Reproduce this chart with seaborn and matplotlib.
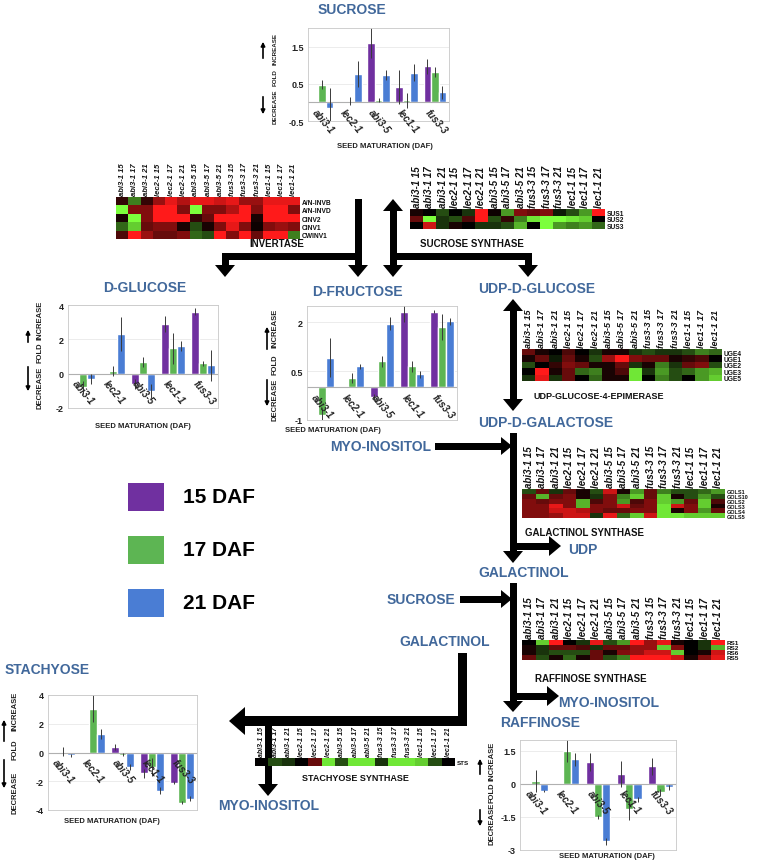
import numpy as np
import pandas as pd
import matplotlib
matplotlib.use("Agg")
import matplotlib.pyplot as plt
import seaborn as sns
from matplotlib.colors import LinearSegmentedColormap
from matplotlib.patches import Rectangle, Polygon

W, H = 758, 862
sns.set_style("white")
plt.rcParams["font.family"] = ["Liberation Sans", "DejaVu Sans"]

# ---------------- data ----------------
lines = ["abi3-1", "lec2-1", "abi3-5", "lec1-1", "fus3-3"]
daf = ["15 DAF", "17 DAF", "21 DAF"]
palette = ["#7030A0", "#5DB553", "#4A7DD4"]

suc15 = [0, 0, 1.6, 0.42, 0.97]
suc17 = [0.48, 0.04, 0.06, 0.06, 0.82]
suc21 = [-0.15, 0.76, 0.74, 0.80, 0.27]
suc_e15 = [0, 0, 0.40, 0.45, 0.20]
suc_e17 = [0.13, 0.10, 0.06, 0.20, 0.13]
suc_e21 = [0.55, 0.35, 0.13, 0.22, 0.17]

glu15 = [0, 0, -0.6, 2.9, 3.6]
glu17 = [-0.8, 0.15, 0.7, 1.47, 0.6]
glu21 = [-0.3, 2.3, -1.0, 1.6, 0.5]
glu_e15 = [0, 0, 0.3, 0.45, 0.2]
glu_e17 = [0.4, 0.3, 0.3, 0.9, 0.15]
glu_e21 = [0.3, 1.0, 0.4, 0.3, 0.9]

fru15 = [0, 0, -0.3, 2.32, 2.32]
fru17 = [-0.85, 0.3, 0.81, 0.65, 1.86]
fru21 = [0.91, 0.65, 1.96, 0.4, 2.03]
fru_e15 = [0, 0, 0.1, 0.3, 0.05]
fru_e17 = [0.2, 0.15, 0.17, 0.17, 0.4]
fru_e21 = [0.6, 0.08, 0.2, 0.1, 0.1]

sta15 = [0, 0, 0.4, -1.45, -2.1]
sta17 = [0.05, 3.05, -0.15, -1.0, -3.5]
sta21 = [-0.2, 1.3, -1.0, -2.65, -3.2]
sta_e15 = [0, 0, 0.2, 0.3, 0.1]
sta_e17 = [0.3, 0.95, 0.1, 0.6, 0.1]
sta_e21 = [0.1, 0.35, 0.2, 0.25, 0.2]

raf15 = [0, 0, 1.0, 0.45, 0.8]
raf17 = [0.13, 1.5, -1.5, -1.15, -0.38]
raf21 = [-0.3, 1.12, -2.6, -0.7, -0.15]
raf_e15 = [0, 0, 0.4, 0.6, 0.4]
raf_e17 = [0.5, 0.5, 0.1, 0.5, 0.15]
raf_e21 = [0.05, 0.3, 0.15, 0.1, 0.1]

heat_cols = ["abi3-1 15", "abi3-1 17", "abi3-1 21", "lec2-1 15", "lec2-1 17", "lec2-1 21",
             "abi3-5 15", "abi3-5 17", "abi3-5 21", "fus3-3 15", "fus3-3 17", "fus3-3 21",
             "lec1-1 15", "lec1-1 17", "lec1-1 21"]

inv_genes = ["A/N-INVB", "A/N-INVD", "CINV2", "CINV1", "CWINV1"]
inv_vals = [
    [0.2, -0.5, 0.2, 0.6, 0.9, 0.7, 0.9, 0.9, 0.8, 0.9, 0.6, 0.6, 0.9, 0.9, 0.9],
    [-1, 0.5, 0.5, 1, 1, 0.5, -1, 0.5, 0.5, 0.7, 1, 0.5, 1, 1, 0.5],
    [0.1, -1, 0.5, 1, 1, 1, 0.2, 0.4, 1, 1, 1, 0.1, 1, 1, 1],
    [-0.4, -0.8, 0.4, 0.5, 0.5, 0.1, -0.3, 0.1, 0.5, 0.9, 0.5, 0.05, 0.5, 0.6, 0.5],
    [0.3, 1, 0.6, 0.4, 0.4, 0.5, -0.4, -0.3, 1, 0.5, 1, 0.4, 1, 1, -0.5],
]
sus_genes = ["SUS1", "SUS2", "SUS3"]
sus_vals = [
    [0.1, 0.0, -0.3, 0.0, -0.2, 1.0, 0.05, -0.6, 0.5, 0.4, 0.5, -0.1, -0.3, -0.6, 1.0],
    [0.4, -1.0, -0.2, -0.3, 0.3, 1.0, -0.3, 0.2, -0.5, -0.9, -1.0, -1.0, -0.9, -0.8, 0.0],
    [0.0, 0.8, -0.2, 0.1, 0.0, -0.2, -0.2, -0.3, -0.7, 0.0, -1.0, -0.6, -0.5, -0.6, -0.4],
]
uge_genes = ["UGE4", "UGE1", "UGE2", "UGE3", "UGE5"]
uge_vals = [
    [0.4, 0.1, 0.0, 0.3, 0.0, -0.2, 0.1, 0.1, -0.2, -0.3, -0.2, -0.2, -0.3, -0.5, -0.4],
    [0.1, 0.4, -0.1, 0.4, 0.1, -0.3, 0.6, 1.0, 0.5, 0.4, 0.4, 0.1, 0.2, 0.3, 0.0],
    [-0.3, 0.0, 0.2, 0.5, 0.4, 0.1, 0.1, 0.4, -0.2, 0.1, -0.5, -0.2, 0.4, 0.5, -0.3],
    [0.0, 1.0, 0.1, 0.4, -0.4, -0.5, 0.1, 0.3, -0.9, -0.2, -0.6, -0.3, -0.4, -0.6, -0.7],
    [-0.2, 0.9, -0.2, 0.4, 0.0, -0.4, 0.1, 0.1, -0.9, 0.0, -0.5, -0.3, 0.0, -0.6, -0.8],
]
gols_genes = ["GOLS1", "GOLS10", "GOLS2", "GOLS3", "GOLS4", "GOLS5"]
gols_vals = [
    [-0.3, 0.4, -0.2, 0.4, 0.1, -0.3, 0.8, 0.1, -0.6, 0.4, -0.5, -0.3, -0.3, -0.4, -0.6],
    [0.4, -0.7, 0.4, 0.5, 0.1, -0.2, 0.5, -0.5, -0.8, 0.4, -0.8, 0.1, -0.3, -0.6, -0.3],
    [0.5, 0.4, 0.5, 0.5, -0.7, 0.3, 0.5, -0.6, 0.3, 0.5, -0.8, -0.6, 0.4, -0.8, 0.3],
    [0.5, 0.5, 0.9, 0.5, -0.7, 0.5, 0.5, 0.8, 0.4, 0.5, -0.9, 0.8, 0.5, -0.8, 0.1],
    [0.5, 0.5, 0.8, 0.8, 0.7, 0.5, 0.4, 0.4, 0.5, 0.5, -0.9, 0.1, 0.5, -0.6, 0.4],
    [0.5, 0.5, 0.6, 0.8, 0.8, -0.2, 0.9, -0.4, -0.8, 0.8, -0.9, -0.9, -0.8, -0.8, -0.8],
]
rs_genes = ["RS1", "RS2", "RS6", "RS5"]
rs_vals = [
    [0.0, -0.8, 1.0, 0.0, -0.2, 0.9, -0.3, -0.6, 1.0, 0.6, 0.9, 0.1, 0.0, -0.2, 1.0],
    [0.1, -0.2, 0.4, 0.4, 0.3, -0.2, 0.4, 0.4, 0.6, 0.6, -0.8, 0.5, 0.0, -0.2, -0.7],
    [0.1, -0.2, -0.3, -0.3, -0.3, 0.4, 0.1, 0.5, 0.6, 0.8, 0.8, -0.8, 0.0, 0.1, 0.8],
    [0.4, -0.3, 0.1, -0.4, 0.1, 0.4, -0.3, -0.5, 1.0, 1.0, 1.0, 0.8, 0.1, 0.5, 0.9],
]
sts_genes = ["STS"]
sts_vals = [[0.0, -0.3, -0.2, 0.0, 0.4, -0.9, -0.3, -0.9, -0.9, -0.2, -0.9, -0.9, -0.8, -0.3, 0.0]]

# ---------------- figure ----------------
fig = plt.figure(figsize=(W / 100, H / 100), dpi=100)
ov = fig.add_axes([0, 0, 1, 1])
ov.set_xlim(0, W)
ov.set_ylim(H, 0)
ov.axis("off")

TITLE = "#41689B"
cmap = LinearSegmentedColormap.from_list("gbr", ["#7CFF3C", "#000000", "#FF1A1A"])


def box(x0, y0, x1, y1):
    return fig.add_axes([x0 / W, 1 - y1 / H, (x1 - x0) / W, (y1 - y0) / H])


def seg(x0, y0, x1, y1, t=7):
    if y0 == y1:
        ov.add_patch(Rectangle((min(x0, x1), y0 - t / 2), abs(x1 - x0), t, color="black", lw=0))
    else:
        ov.add_patch(Rectangle((x0 - t / 2, min(y0, y1)), t, abs(y1 - y0), color="black", lw=0))


def head(x, y, d, L=12, Wd=20):
    if d == "d":
        pts = [(x, y), (x - Wd / 2, y - L), (x + Wd / 2, y - L)]
    elif d == "u":
        pts = [(x, y), (x - Wd / 2, y + L), (x + Wd / 2, y + L)]
    elif d == "l":
        pts = [(x, y), (x + L, y - Wd / 2), (x + L, y + Wd / 2)]
    else:
        pts = [(x, y), (x - L, y - Wd / 2), (x - L, y + Wd / 2)]
    ov.add_patch(Polygon(pts, closed=True, color="black", lw=0))


def txt(x, y, s, size=10, color=TITLE, ha="left", weight="bold", **kw):
    ov.text(x, y, s, fontsize=size, color=color, ha=ha, va="center", fontweight=weight, **kw)


def ylab(xt, xa, yi, yf, yd, up, down, fs=5.5):
    for y, s in [(yi, "INCREASE"), (yf, "FOLD"), (yd, "DECREASE")]:
        ov.text(xt, y, s, rotation=90, fontsize=fs, fontweight="bold", ha="center", va="center", color="#222222")
    ov.annotate("", xy=(xa, up[0]), xytext=(xa, up[1]),
                arrowprops=dict(arrowstyle="-|>", lw=1.2, color="black", mutation_scale=6))
    ov.annotate("", xy=(xa, down[1]), xytext=(xa, down[0]),
                arrowprops=dict(arrowstyle="-|>", lw=1.2, color="black", mutation_scale=6))


def barchart(bx, v15, v17, v21, e15, e17, e21, ylim, yticks, ylabels):
    ax = box(*bx)
    df = pd.DataFrame({"line": lines * 3,
                       "DAF": [d for d in daf for _ in lines],
                       "value": list(v15) + list(v17) + list(v21)})
    sns.barplot(data=df, x="line", y="value", hue="DAF", hue_order=daf, order=lines,
                palette=palette, ax=ax, errorbar=None, width=0.8, legend=False, saturation=1)
    for cont, errs in zip(ax.containers, [e15, e17, e21]):
        for bar, e in zip(cont, errs):
            if e > 0:
                ax.errorbar(bar.get_x() + bar.get_width() / 2, bar.get_height(), yerr=e,
                            color="#3a3a3a", lw=0.7, capsize=0)
    ax.set_xlim(-0.5, 4.5)
    ax.set_ylim(*ylim)
    ax.set_yticks(yticks)
    ax.set_yticklabels(ylabels, fontsize=6.5, fontweight="bold", color="#222222")
    ax.set_xticks([])
    ax.set_xlabel("")
    ax.set_ylabel("")
    for sp in ax.spines.values():
        sp.set_color("#c8c8c8")
        sp.set_linewidth(0.6)
    for yt in yticks:
        ax.axhline(yt, color="#e4e4e4", lw=0.5, zorder=0)
    ax.axhline(0, color="#b0b0b0", lw=0.8, zorder=1)
    ax.tick_params(length=0, pad=3)
    for i, name in enumerate(lines):
        ax.annotate(name, xy=(i - 0.15, 0), xytext=(0, -3), textcoords="offset points",
                    rotation=-50, rotation_mode="anchor", ha="left", va="top",
                    fontsize=7, style="italic", fontweight="bold", color="#222222")
    return ax


def heat(bx, vals, genes, fs_col, fs_row):
    ax = box(*bx)
    sns.heatmap(np.array(vals), cmap=cmap, vmin=-1, vmax=1, cbar=False, ax=ax,
                xticklabels=heat_cols, yticklabels=genes)
    ax.xaxis.tick_top()
    ax.set_xticklabels(heat_cols, rotation=90, fontsize=fs_col, style="italic",
                       fontweight="bold", color="#111111")
    ax.yaxis.tick_right()
    ax.set_yticklabels(genes, rotation=0, fontsize=fs_row, fontweight="bold", color="#111111")
    ax.tick_params(length=0, pad=1.5)
    return ax


# ---------------- bar charts ----------------
txt(352, 10, "SUCROSE", ha="center")
barchart((308, 29, 449, 122), suc15, suc17, suc21, suc_e15, suc_e17, suc_e21,
         (-0.5, 2.0), [-0.5, 0.5, 1.5], ["-0.5", "0.5", "1.5"])
ylab(275, 263, 49, 78, 107, (40, 62), (95, 118), fs=4.5)
txt(385, 147, "SEED MATURATION (DAF)", size=5.5, color="#222222", ha="center")

txt(145, 288, "D-GLUCOSE", ha="center")
barchart((68, 306, 218, 409), glu15, glu17, glu21, glu_e15, glu_e17, glu_e21,
         (-2, 4), [-2, 0, 2, 4], ["-2", "0", "2", "4"])
ylab(40, 28, 320, 353, 388, (328, 346), (365, 395))
txt(143, 427, "SEED MATURATION (DAF)", size=5.5, color="#222222", ha="center")

txt(357, 292, "D-FRUCTOSE", ha="center")
barchart((307, 307, 457, 421), fru15, fru17, fru21, fru_e15, fru_e17, fru_e21,
         (-1, 2.5), [-1, 0.5, 2], ["-1", "0.5", "2"])
ylab(275, 267, 328, 365, 400, (325, 353), (378, 410))
txt(333, 431, "SEED MATURATION (DAF)", size=5.5, color="#222222", ha="center")

txt(5, 670, "STACHYOSE")
barchart((48, 696, 197, 811), sta15, sta17, sta21, sta_e15, sta_e17, sta_e21,
         (-4, 4), [-4, -2, 0, 2, 4], ["-4", "-2", "0", "2", "4"])
ylab(15, 4, 711, 750, 793, (718, 745), (758, 792))
txt(112, 822, "SEED MATURATION (DAF)", size=5.5, color="#222222", ha="center")

txt(500, 723, "RAFFINOSE")
barchart((520, 741, 676, 851), raf15, raf17, raf21, raf_e15, raf_e17, raf_e21,
         (-3, 2), [-3, -1.5, 0, 1.5], ["-3", "-1.5", "0", "1.5"])
ylab(492, 480, 761, 793, 824, (757, 778), (808, 830))
txt(607, 857, "SEED MATURATION (DAF)", size=5.5, color="#222222", ha="center")

# ---------------- heatmaps ----------------
heat((116, 198, 300, 240), inv_vals, inv_genes, 5.5, 4.8)
heat((410, 210, 605, 230), sus_vals, sus_genes, 7.0, 4.8)
heat((522, 350, 722, 382), uge_vals, uge_genes, 6.5, 4.8)
heat((522, 490, 725, 519), gols_vals, gols_genes, 7.0, 4.0)
heat((522, 641, 725, 661), rs_vals, rs_genes, 7.0, 4.6)
heat((255, 759, 455, 767), sts_vals, sts_genes, 5.0, 4.5)

# ---------------- labels ----------------
txt(277, 244, "INVERTASE", size=7, color="#111111", ha="center")
txt(420, 244, "SUCROSE SYNTHASE", size=7, color="#111111")
txt(533, 397, "UDP-GLUCOSE-4-EPIMERASE", size=6.5, color="#111111")
txt(525, 533, "GALACTINOL SYNTHASE", size=7, color="#111111")
txt(535, 679, "RAFFINOSE SYNTHASE", size=7, color="#111111")
txt(355, 779, "STACHYOSE SYNTHASE", size=6.5, color="#111111", ha="center")

txt(478, 289, "UDP-D-GLUCOSE")
txt(478, 423, "UDP-D-GALACTOSE")
txt(431, 447, "MYO-INOSITOL", ha="right")
txt(568, 550, "UDP")
txt(478, 573, "GALACTINOL")
txt(455, 600, "SUCROSE", ha="right")
txt(490, 642, "GALACTINOL", ha="right")
txt(558, 703, "MYO-INOSITOL")
txt(218, 806, "MYO-INOSITOL")

# ---------------- arrows ----------------
seg(358, 200, 358, 267)
seg(222, 257, 361, 257)
seg(225, 254, 225, 267)
head(358, 278, "d")
head(225, 278, "d")
seg(393, 211, 393, 267)
head(393, 200, "u")
head(393, 278, "d")
seg(390, 257, 531, 257)
seg(528, 254, 528, 267)
head(528, 278, "d")

head(513, 300, "u")
seg(513, 311, 513, 401)
head(513, 412, "d")
seg(513, 434, 513, 553)
seg(435, 447, 501, 447)
head(512, 447, "r", L=11, Wd=18)
seg(513, 547, 550, 547)
head(561, 547, "r")
head(513, 564, "d")
seg(513, 584, 513, 702)
seg(460, 600, 501, 600)
head(512, 600, "r", L=11, Wd=18)
seg(513, 697, 548, 697)
head(559, 697, "r")
head(513, 713, "d", L=11)

seg(462, 654, 462, 722, t=9)
seg(240, 722, 467, 722, t=10)
head(229, 722, "l", L=16, Wd=28)
seg(268, 722, 268, 786)
head(268, 797, "d")

# ---------------- legend ----------------
for (yc, lab), col in zip([(498, "15 DAF"), (551, "17 DAF"), (604, "21 DAF")], palette):
    ov.add_patch(Rectangle((128, yc - 14), 36, 28, color=col, lw=0))
    txt(183, yc, lab, size=15, color="black")

fig.savefig("out.png", dpi=100)
